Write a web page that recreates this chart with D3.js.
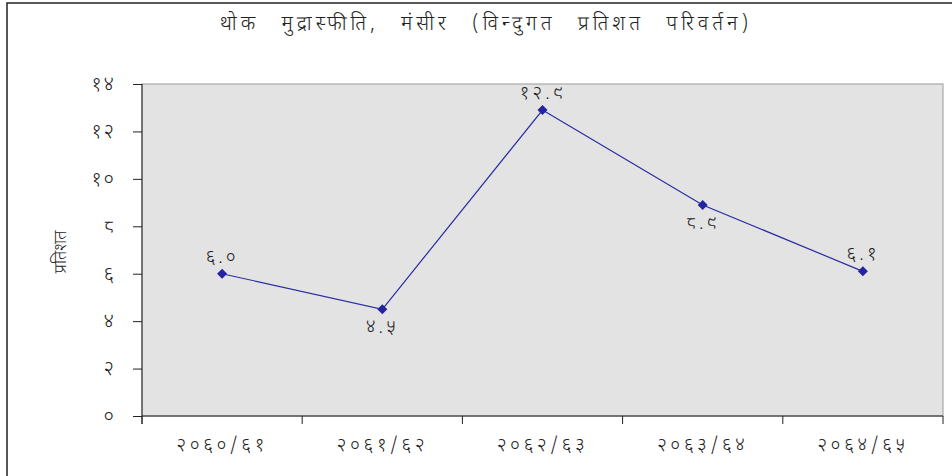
<!DOCTYPE html>
<html lang="ne">
<head>
    <meta charset="UTF-8">
    <title>थोक मुद्रास्फीति</title>
    <script src="https://d3js.org/d3.v7.min.js"></script>
    <style>
        body { margin: 0; background: #fff; }
        text { font-family: "Noto Sans Devanagari", "Noto Sans", sans-serif; fill: #222; font-weight: 300; }
    </style>
</head>
<body>
<svg></svg>
<script>
    // data
    const categories = ["२०६०/६१", "२०६१/६२", "२०६२/६३", "२०६३/६४", "२०६४/६५"];
    const values = [6.0, 4.5, 12.9, 8.9, 6.1];
    const valueLabels = ["६.०", "४.५", "१२.९", "८.९", "६.१"];
    const yTicks = [0, 2, 4, 6, 8, 10, 12, 14];
    const yTickLabels = ["०", "२", "४", "६", "८", "१०", "१२", "१४"];

    const title = "थोक मुद्रास्फीति, मंसीर (विन्दुगत प्रतिशत परिवर्तन)";
    const yTitle = "प्रतिशत";

    const width = 952, height = 476;
    const plot = { left: 142, top: 84, right: 943, bottom: 416 };
    const labelsBelow = new Set([1, 3]);

    const svg = d3.select("svg")
        .attr("width", width)
        .attr("height", height);

    // outer frame
    svg.append("rect")
        .attr("x", 7).attr("y", 3)
        .attr("width", width + 10).attr("height", height + 10)
        .attr("fill", "none")
        .attr("stroke", "#222")
        .attr("stroke-width", 1.5);

    const xScale = d3.scaleBand()
        .domain(categories)
        .range([plot.left, plot.right]);

    const yScale = d3.scaleLinear()
        .domain([0, 14])
        .range([plot.bottom, plot.top]);

    // plot area
    svg.append("rect")
        .attr("x", plot.left).attr("y", plot.top)
        .attr("width", plot.right - plot.left)
        .attr("height", plot.bottom - plot.top)
        .attr("fill", "#e3e3e3")
        .attr("stroke", "#a8a8a8")
        .attr("stroke-width", 1.2);

    // y axis
    svg.append("g")
        .attr("transform", `translate(${plot.left}, 0)`)
        .call(d3.axisLeft(yScale)
            .tickValues(yTicks)
            .tickSize(9)
            .tickPadding(17)
            .tickFormat((d, i) => yTickLabels[i]))
        .call(g => g.select(".domain").attr("stroke", "#222").attr("d", `M0,${plot.top}V${plot.bottom + 8}`))
        .call(g => g.selectAll(".tick line").attr("stroke", "#222"))
        .call(g => g.selectAll(".tick text")
            .style("font-size", "20px")
            .style("letter-spacing", "2px")
            .attr("fill", "#222"));

    // x axis with ticks at category boundaries
    svg.append("g")
        .attr("transform", `translate(0, ${plot.bottom})`)
        .call(d3.axisBottom(xScale).tickSize(0).tickPadding(22))
        .call(g => g.select(".domain").attr("stroke", "#222").attr("d", `M${plot.left},0H${plot.right}`))
        .call(g => g.selectAll(".tick text")
            .style("font-size", "19px")
            .style("letter-spacing", "3.5px")
            .attr("fill", "#222"));

    svg.append("g")
        .selectAll("line")
        .data(categories.concat([null]))
        .join("line")
        .attr("x1", (d, i) => i < categories.length ? xScale(d) : plot.right)
        .attr("x2", (d, i) => i < categories.length ? xScale(d) : plot.right)
        .attr("y1", plot.bottom)
        .attr("y2", plot.bottom + 8)
        .attr("stroke", "#222");

    // line
    const cx = (d, i) => xScale(categories[i]) + xScale.bandwidth() / 2;
    const line = d3.line()
        .x(cx)
        .y(d => yScale(d));

    svg.append("path")
        .datum(values)
        .attr("d", line)
        .attr("fill", "none")
        .attr("stroke", "#2b2ba6")
        .attr("stroke-width", 1.2);

    svg.selectAll(".dot")
        .data(values)
        .join("path")
        .attr("class", "dot")
        .attr("d", d3.symbol(d3.symbolDiamond2, 64))
        .attr("transform", (d, i) => `translate(${cx(d, i)}, ${yScale(d)})`)
        .attr("fill", "#2424a0");

    svg.selectAll(".val")
        .data(values)
        .join("text")
        .attr("class", "val")
        .attr("x", cx)
        .attr("y", (d, i) => yScale(d) + (labelsBelow.has(i) ? 24 : -11))
        .attr("text-anchor", "middle")
        .style("font-size", "19px")
        .style("letter-spacing", "3px")
        .text((d, i) => valueLabels[i]);

    // titles
    svg.append("text")
        .attr("x", 486)
        .attr("y", 30)
        .attr("text-anchor", "middle")
        .style("font-size", "20px")
        .style("letter-spacing", "4px")
        .style("word-spacing", "13px")
        .text(title);

    svg.append("text")
        .attr("transform", `translate(66, ${(plot.top + plot.bottom) / 2 + 2}) rotate(-90)`)
        .attr("text-anchor", "middle")
        .style("font-size", "17px")
        .text(yTitle);
</script>
</body>
</html>
